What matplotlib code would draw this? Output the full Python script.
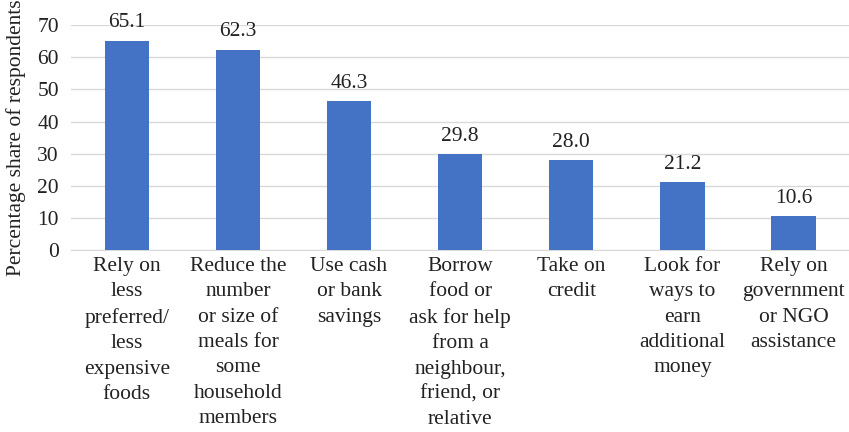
import matplotlib
matplotlib.use("Agg")
import matplotlib.pyplot as plt

plt.rcParams['font.family'] = ['Liberation Serif', 'DejaVu Serif']

# categories and values
categorias = [
    "Rely on\nless\npreferred/\nless\nexpensive\nfoods",
    "Reduce the\nnumber\nor size of\nmeals for\nsome\nhousehold\nmembers",
    "Use cash\nor bank\nsavings",
    "Borrow\nfood or\nask for help\nfrom a\nneighbour,\nfriend, or\nrelative",
    "Take on\ncredit",
    "Look for\nways to\nearn\nadditional\nmoney",
    "Rely on\ngovernment\nor NGO\nassistance",
]
valores = [65.1, 62.3, 46.3, 29.8, 28.0, 21.2, 10.6]
yticks = [0, 10, 20, 30, 40, 50, 60, 70]

fig = plt.figure(figsize=(8.49, 4.32), dpi=100)
ax = fig.add_axes([0.084, 0.421, 0.916, 0.521])

x = list(range(len(categorias)))
barras = ax.bar(x, valores, width=0.4, color='#4472C4', zorder=3)

# etiquetas de valor encima de cada barra
for b, v in zip(barras, valores):
    ax.annotate(f"{v:.1f}", (b.get_x() + b.get_width() / 2, v),
                xytext=(0, 6), textcoords='offset points',
                ha='center', va='bottom', fontsize=15.5, color='#222222')

ax.set_xlim(-0.5, len(categorias) - 0.5)
ax.set_ylim(0, 70)
ax.set_yticks(yticks)
ax.set_xticks(x)
ax.set_xticklabels(categorias, fontsize=15.5, linespacing=1.45, color='#222222')
ax.tick_params(axis='both', length=0, labelsize=15.5, colors='#222222')
ax.tick_params(axis='x', pad=5)
ax.tick_params(axis='y', pad=9)

ax.grid(axis='y', color='#d9d9d9', linewidth=1, zorder=0)
for s in ['top', 'right', 'left']:
    ax.spines[s].set_visible(False)
ax.spines['bottom'].set_color('#d9d9d9')

ax.set_ylabel("Percentage share of respondents", fontsize=15.5, color='#222222', labelpad=8)

fig.savefig("out.png", dpi=100)
